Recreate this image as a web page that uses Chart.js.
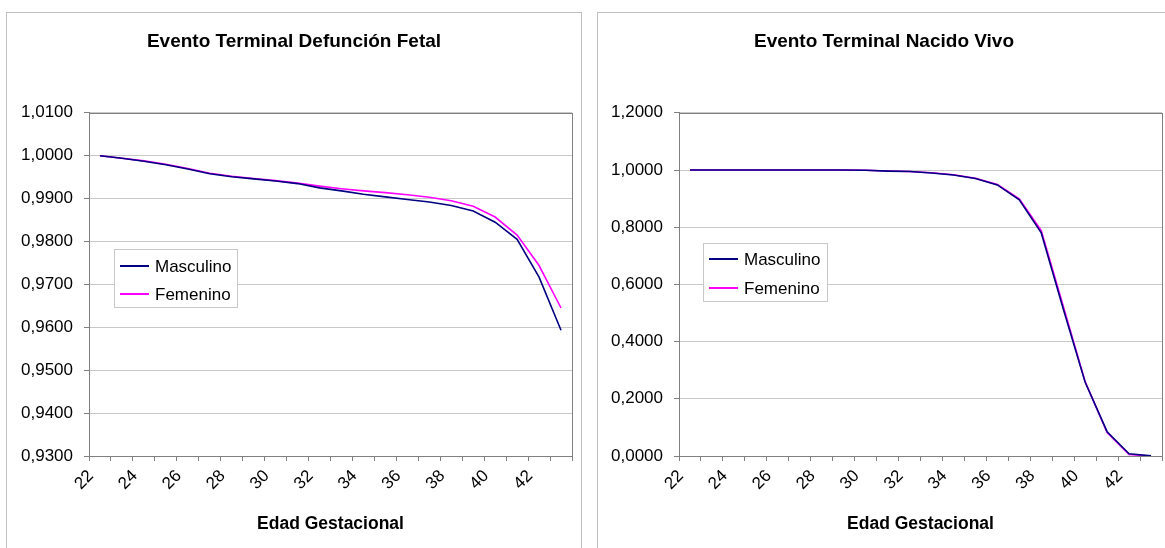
<!DOCTYPE html>
<html>
<head>
<meta charset="utf-8">
<script src="https://cdn.jsdelivr.net/npm/chart.js@4.4.1/dist/chart.umd.min.js"></script>
<style>
    html, body { margin: 0; padding: 0; background: #fff; overflow: hidden; }
    body { width: 1165px; height: 548px; position: relative; }
    .marco { position: absolute; top: 12px; height: 600px; border: 1px solid #c0c0c0; box-sizing: border-box; }
    .lienzo { position: absolute; top: 0; }
</style>
</head>
<body>
<div class="marco" style="left:6px;width:576px"></div>
<div class="marco" style="left:597px;width:620px"></div>
<canvas id="chartFetal" class="lienzo" style="left:0" width="590" height="548"></canvas>
<canvas id="chartVivo" class="lienzo" style="left:590px" width="590" height="548"></canvas>
<script>
// Semanas de edad gestacional
const semanas = ['22', '23', '24', '25', '26', '27', '28', '29', '30', '31', '32',
                 '33', '34', '35', '36', '37', '38', '39', '40', '41', '42', '43'];

// Evento terminal: defunción fetal
const fetalMasculino = [1.0000, 0.9994, 0.9987, 0.9979, 0.9969, 0.9958, 0.9951, 0.9946, 0.9941, 0.9935, 0.9925,
                        0.9918, 0.9910, 0.9904, 0.9898, 0.9892, 0.9884, 0.9871, 0.9845, 0.9805, 0.9717, 0.9593];
const fetalFemenino = [1.0000, 0.9994, 0.9988, 0.9980, 0.9970, 0.9959, 0.9952, 0.9947, 0.9942, 0.9936, 0.9929,
                       0.9923, 0.9918, 0.9914, 0.9909, 0.9903, 0.9895, 0.9882, 0.9857, 0.9815, 0.9744, 0.9645];

// Evento terminal: nacido vivo
const vivoMasculino = [1.0000, 1.0000, 1.0000, 1.0000, 1.0000, 1.0000, 1.0000, 1.0000, 0.9990, 0.9960, 0.9945,
                       0.9895, 0.9825, 0.9700, 0.9480, 0.8960, 0.7800, 0.5150, 0.2580, 0.0850, 0.0080, 0.0005];
const vivoFemenino = [1.0000, 1.0000, 1.0000, 1.0000, 1.0000, 1.0000, 1.0000, 1.0000, 0.9990, 0.9965, 0.9950,
                      0.9905, 0.9835, 0.9710, 0.9490, 0.8990, 0.7880, 0.5250, 0.2600, 0.0820, 0.0050, 0.0000];

Chart.defaults.font.family = '"Liberation Sans", Arial, sans-serif';
Chart.defaults.color = '#000';

// Borde gris alrededor del área de trazado
const marcoPlot = {
    id: 'marcoPlot',
    afterDatasetsDraw(chart) {
        const { ctx, chartArea } = chart;
        ctx.save();
        ctx.strokeStyle = '#808080';
        ctx.lineWidth = 1;
        ctx.strokeRect(Math.round(chartArea.left) + 0.5, Math.round(chartArea.top) + 0.5,
            Math.round(chartArea.right - chartArea.left), Math.round(chartArea.bottom - chartArea.top));
        ctx.restore();
    }
};

// Leyenda dentro del gráfico, como en Excel
const leyendaInterna = {
    id: 'leyendaInterna',
    afterDraw(chart, args, opts) {
        const { ctx, chartArea } = chart;
        const x = Math.round(chartArea.left + opts.x);
        const y = Math.round(chartArea.top + opts.y);
        ctx.save();
        ctx.fillStyle = '#fff';
        ctx.fillRect(x, y, opts.w, opts.h);
        ctx.strokeStyle = '#c8c8c8';
        ctx.lineWidth = 1;
        ctx.strokeRect(x + 0.5, y + 0.5, opts.w, opts.h);
        ctx.font = '17px "Liberation Sans", Arial, sans-serif';
        ctx.textBaseline = 'middle';
        chart.data.datasets.forEach((ds, i) => {
            const fy = y + opts.filas[i];
            ctx.strokeStyle = ds.borderColor;
            ctx.lineWidth = 2;
            ctx.beginPath();
            ctx.moveTo(x + 6, fy);
            ctx.lineTo(x + 35, fy);
            ctx.stroke();
            ctx.fillStyle = '#000';
            ctx.fillText(ds.label, x + 41, fy + 1);
        });
        ctx.restore();
    }
};

function crearGrafico(id, titulo, masculino, femenino, minY, maxY, paso, leyenda) {
    const ctx = document.getElementById(id).getContext('2d');
    return new Chart(ctx, {
        type: 'line',
        data: {
            labels: semanas,
            datasets: [
                { label: 'Masculino', data: masculino, borderColor: '#000080', borderWidth: 1.6, pointRadius: 0, tension: 0 },
                { label: 'Femenino', data: femenino, borderColor: '#ff00ff', borderWidth: 1.6, pointRadius: 0, tension: 0 }
            ]
        },
        plugins: [marcoPlot, leyendaInterna],
        options: {
            responsive: false,
            animation: false,
            layout: { padding: { left: 16, right: 18, top: 0, bottom: 0 } },
            plugins: {
                legend: { display: false },
                tooltip: { enabled: false },
                title: {
                    display: true,
                    text: titulo,
                    color: '#000',
                    font: { size: 19, weight: 'bold' },
                    padding: { top: 30, bottom: 60 }
                },
                leyendaInterna: leyenda
            },
            scales: {
                x: {
                    offset: true,
                    afterFit(scale) { scale.height = 92; },
                    grid: { offset: true, drawOnChartArea: false, tickLength: 5, color: '#808080' },
                    border: { display: true, color: '#808080' },
                    ticks: {
                        autoSkip: false,
                        minRotation: 45,
                        maxRotation: 45,
                        padding: 5,
                        labelOffset: -9,
                        font: { size: 17 },
                        color: '#000',
                        callback: (valor, i) => (i % 2 === 0 ? semanas[i] : '')
                    },
                    title: {
                        display: true,
                        text: 'Edad Gestacional',
                        color: '#000',
                        font: { size: 17.5, weight: 'bold' },
                        padding: { top: 0, bottom: 13 }
                    }
                },
                y: {
                    min: minY,
                    max: maxY,
                    afterFit(scale) { scale.width = 73; },
                    grid: { color: '#c8c8c8', tickLength: 5, tickColor: '#808080' },
                    border: { display: true, color: '#808080' },
                    ticks: {
                        stepSize: paso,
                        padding: 11,
                        font: { size: 17 },
                        color: '#000',
                        callback: valor => valor.toFixed(4).replace('.', ',')
                    }
                }
            }
        }
    });
}

crearGrafico('chartFetal', 'Evento Terminal Defunción Fetal', fetalMasculino, fetalFemenino, 0.93, 1.01, 0.01,
    { x: 25, y: 136, w: 123, h: 58, filas: [17, 45] });
crearGrafico('chartVivo', 'Evento Terminal Nacido Vivo', vivoMasculino, vivoFemenino, 0, 1.2, 0.2,
    { x: 24, y: 130, w: 124, h: 58, filas: [16, 45] });
</script>
</body>
</html>
